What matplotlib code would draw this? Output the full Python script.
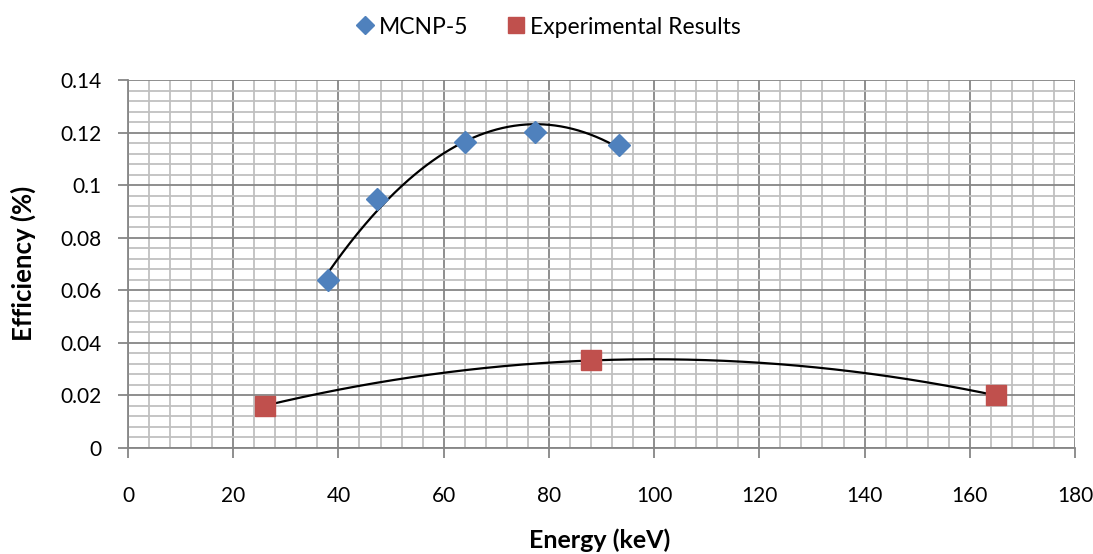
import numpy as np
import matplotlib

matplotlib.use("Agg")
import matplotlib.pyplot as plt
from matplotlib.ticker import MultipleLocator

plt.rcParams["font.family"] = ["Lato", "DejaVu Sans"]

# MCNP-5 simulation
mcnp_energy = [38.1, 47.3, 64.0, 77.3, 93.4]
mcnp_eff = [0.0639, 0.0949, 0.1164, 0.1202, 0.1154]

# measured
exp_energy = [26.0, 88.0, 165.0]
exp_eff = [0.0161, 0.0333, 0.0200]

BLUE = "#4F81BD"
RED = "#C0504D"
MAJOR = "#868686"
MINOR = "#C0C0C0"
FS = 15

W, H = 1093, 554
fig = plt.figure(figsize=(W / 100, H / 100), dpi=100)
ax = fig.add_axes([128 / W, 1 - 448 / H, (1075 - 128) / W, (448 - 80) / H])

# polynomial trend lines (order 2), first to last point
for xs, ys in [(mcnp_energy, mcnp_eff), (exp_energy, exp_eff)]:
    c = np.polyfit(xs, ys, 2)
    xf = np.linspace(min(xs), max(xs), 200)
    ax.plot(xf, np.polyval(c, xf), color="black", lw=1.6, zorder=3)

ax.plot(mcnp_energy, mcnp_eff, "D", color=BLUE, ms=11, mec=BLUE,
        label="MCNP-5", zorder=4)
ax.plot(exp_energy, exp_eff, "s", color=RED, ms=14, mec=RED,
        label="Experimental Results", zorder=4)

ax.set_xlim(0, 180)
ax.set_ylim(0, 0.14)
ax.xaxis.set_major_locator(MultipleLocator(20))
ax.xaxis.set_minor_locator(MultipleLocator(4))
ax.yaxis.set_minor_locator(MultipleLocator(0.004))
ax.set_yticks(np.arange(0, 0.141, 0.02))
ax.set_yticklabels(["0", "0.02", "0.04", "0.06", "0.08", "0.1", "0.12", "0.14"])

ax.grid(which="major", color=MAJOR, lw=1.3)
ax.grid(which="minor", color=MINOR, lw=1.3)
ax.set_axisbelow(True)
for s in ["top", "right"]:
    ax.spines[s].set_visible(False)
for s in ["left", "bottom"]:
    ax.spines[s].set_color(MAJOR)
    ax.spines[s].set_linewidth(1.3)

ax.tick_params(which="major", length=7, width=1.3, color=MAJOR, labelsize=FS)
ax.tick_params(axis="y", pad=12)
ax.tick_params(axis="x", pad=20)
ax.tick_params(which="minor", length=0)

fig.text(600 / W, 2 / H, "Energy (keV)", fontsize=18, fontweight="bold",
         ha="center", va="bottom")
fig.text(23 / W, 1 - 263 / H, "Efficiency (%)", fontsize=18.5,
         fontweight="bold", ha="center", va="center", rotation=90)

fig.legend(*ax.get_legend_handles_labels(), loc="center",
           bbox_to_anchor=(546 / W, 1 - 27 / H), ncol=2, frameon=False,
           fontsize=16.5, handletextpad=0.0, columnspacing=1.5,
           handlelength=1.2, markerscale=0.85)

fig.savefig("out.png", dpi=100)
